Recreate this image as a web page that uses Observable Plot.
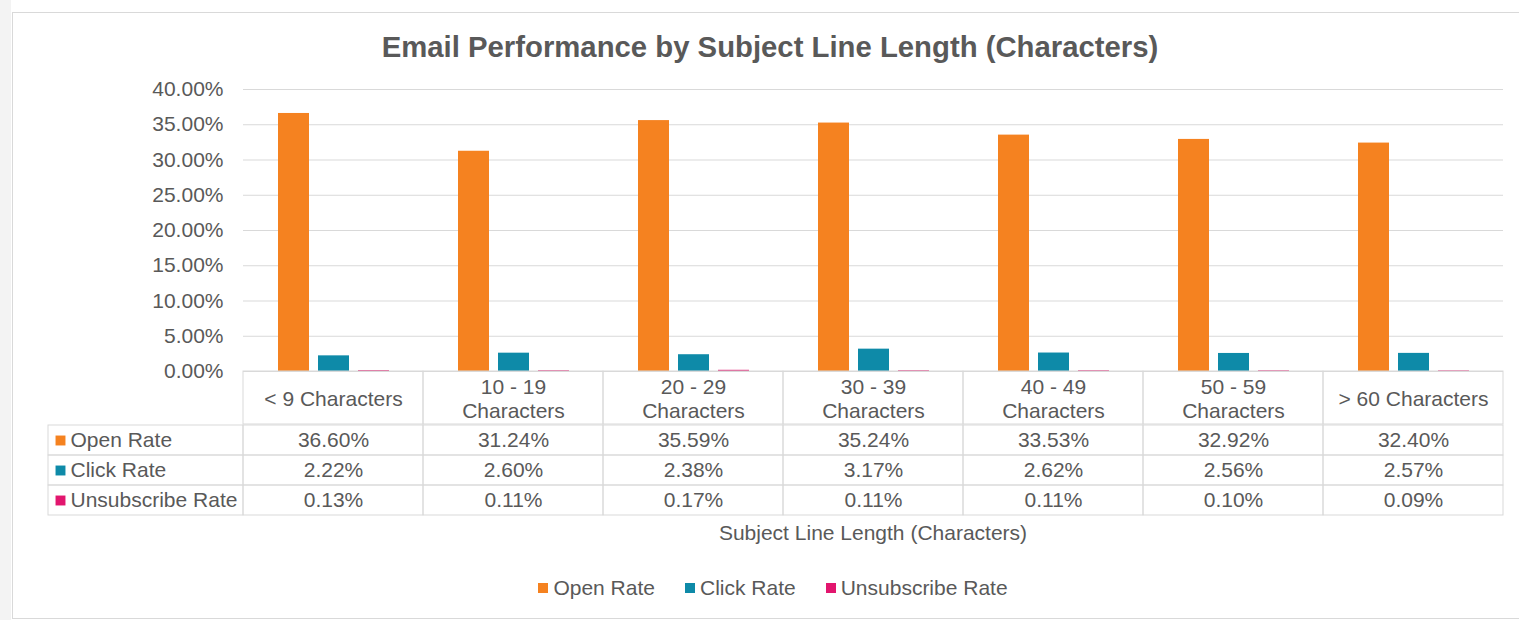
<!DOCTYPE html>
<html>
<head>
<meta charset="utf-8">
<script src="https://cdn.jsdelivr.net/npm/d3@7"></script>
<script src="https://cdn.jsdelivr.net/npm/@observablehq/plot@0.6"></script>
<style>
  html, body { margin: 0; padding: 0; background: #fff; }
  #root { position: relative; width: 1519px; height: 620px; overflow: hidden;
          font-family: "Liberation Sans", Arial, sans-serif; color: #595959; }
  #strip { position: absolute; left: 0; top: 0; width: 11px; height: 620px; background: #f3f3f3; }
  #box { position: absolute; left: 12px; top: 12px; width: 1560px; height: 607px;
         box-sizing: border-box; border: 1px solid #d9d9d9; background: #fff; }
  .abs { position: absolute; }
  #title { left: 0; width: 1540px; top: 30px; text-align: center; font-weight: bold; font-size: 29.3px; line-height: 34px; color: #595959; }
  #xtitle { left: 243px; width: 1260px; top: 521px; text-align: center; font-size: 21px; line-height: 24px; }
  #legend { left: 0; width: 1546px; top: 575px; display: flex; justify-content: center; }
  .lg-swatches-wrap { min-height: 26px !important; }
  .lg-swatches { margin-bottom: 0 !important; }
  .lg-swatch { margin-right: 30px !important; }
  .lg-swatch:last-child { margin-right: 0 !important; }
  .lg-swatch > svg { margin-right: 5px !important; }
</style>
</head>
<body>
<div id="root">
  <div id="strip"></div>
  <div id="box"></div>
  <div id="title" class="abs">Email Performance by Subject Line Length (Characters)</div>
  <div id="main" class="abs" style="left:0;top:0"></div>
  <div id="head" class="abs" style="left:243px;top:371px"></div>
  <div id="labels" class="abs" style="left:48px;top:424px"></div>
  <div id="body" class="abs" style="left:243px;top:424px"></div>
  <div id="xtitle" class="abs">Subject Line Length (Characters)</div>
  <div id="legend" class="abs"></div>
</div>
<script>
// ---- data ----
const categories = ["< 9 Characters", "10 - 19 Characters", "20 - 29 Characters", "30 - 39 Characters",
                    "40 - 49 Characters", "50 - 59 Characters", "> 60 Characters"];
const series = ["Open Rate", "Click Rate", "Unsubscribe Rate"];
const openRate = [36.60, 31.24, 35.59, 35.24, 33.53, 32.92, 32.40];
const clickRate = [2.22, 2.60, 2.38, 3.17, 2.62, 2.56, 2.57];
const unsubscribeRate = [0.13, 0.11, 0.17, 0.11, 0.11, 0.10, 0.09];
const yTicks = [0, 5, 10, 15, 20, 25, 30, 35, 40];
const colors = ["#F58220", "#0E8AA8", "#E2166E"];

const seriesValues = [openRate, clickRate, unsubscribeRate];
const rows = [];
series.forEach((s, j) => categories.forEach((c, i) => rows.push({category: c, series: s, value: seriesValues[j][i]})));

const FONT = '"Liberation Sans", Arial, sans-serif';
const TXT = "#595959";
const GRID = "#d9d9d9";
const pct = d => d.toFixed(2) + "%";
const headerLabel = d => d.replace(/^(\d+ - \d+) /, "$1\n");
const baseStyle = {fontFamily: FONT, fontSize: "21px", color: TXT, background: "transparent", overflow: "visible"};

// ---- bars ----
const main = Plot.plot({
  width: 1519, height: 372,
  marginLeft: 243, marginRight: 16, marginTop: 89, marginBottom: 1,
  style: baseStyle,
  fx: {domain: categories, padding: 0, axis: null, label: null},
  x: {domain: series, paddingInner: 0.225, paddingOuter: 0.8625, axis: null, label: null},
  y: {domain: [0, 40], axis: null, label: null},
  color: {domain: series, range: colors},
  marks: [
    Plot.gridY(yTicks, {stroke: GRID, strokeOpacity: 1}),
    Plot.axisY(yTicks, {tickSize: 0, tickPadding: 20, tickFormat: pct, fill: TXT, fontSize: 21, label: null}),
    Plot.barY(rows, {fx: "category", x: "series", y: "value", fill: "series", inset: 0})
  ]
});
document.getElementById("main").append(main);

// ---- table header row ----
const head = Plot.plot({
  width: 1260, height: 53, margin: 0,
  style: baseStyle,
  x: {domain: categories, padding: 0, axis: null},
  marks: [
    Plot.cell(categories, {x: d => d, stroke: GRID, fill: "none", inset: 0}),
    Plot.text(categories, {x: d => d, text: headerLabel, fill: TXT, fontSize: 21, lineHeight: 1.19})
  ]
});
document.getElementById("head").append(head);

// ---- table body ----
const body = Plot.plot({
  width: 1260, height: 92, margin: 0,
  style: baseStyle,
  x: {domain: categories, padding: 0, axis: null},
  y: {domain: series, padding: 0, axis: null},
  marks: [
    Plot.cell(rows, {x: "category", y: "series", stroke: GRID, fill: "none", inset: 0}),
    Plot.text(rows, {x: "category", y: "series", text: d => pct(d.value), fill: TXT, fontSize: 21})
  ]
});
document.getElementById("body").append(body);

// ---- table row labels ----
const labels = Plot.plot({
  width: 195, height: 92, margin: 0,
  style: baseStyle,
  y: {domain: series, padding: 0, axis: null},
  color: {domain: series, range: colors},
  marks: [
    Plot.cell(series, {y: d => d, stroke: GRID, fill: "none", inset: 0}),
    Plot.dot(series, {y: d => d, frameAnchor: "left", dx: 12, symbol: "square", r: 5.6, fill: d => d}),
    Plot.text(series, {y: d => d, text: d => d, frameAnchor: "left", dx: 22, textAnchor: "start", fill: TXT, fontSize: 21})
  ]
});
document.getElementById("labels").append(labels);

// ---- legend ----
const legend = Plot.legend({
  color: {domain: series, range: colors},
  legend: "swatches",
  swatchSize: 10,
  className: "lg",
  style: {fontFamily: FONT, fontSize: "21px", color: TXT}
});
document.getElementById("legend").append(legend);
</script>
</body>
</html>
